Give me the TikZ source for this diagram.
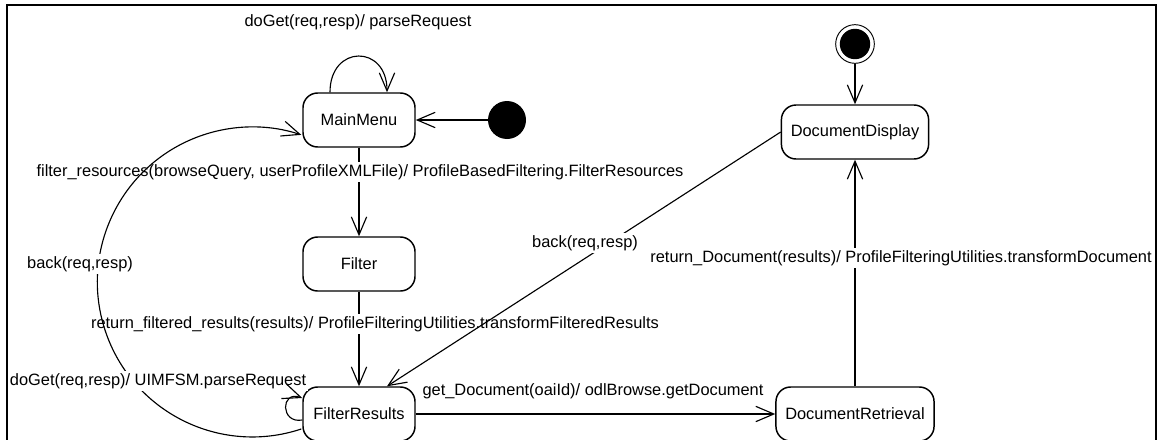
\documentclass[tikz,border=0pt]{standalone}
\usepackage{fontspec}
\setmainfont{Liberation Sans}
\usetikzlibrary{arrows.meta,calc}

\begin{document}
\begin{tikzpicture}[x=0.75pt,y=0.75pt,
  font=\fontsize{12.3pt}{14pt}\selectfont,
  state/.style={draw, line width=1.1pt, rounded corners=11pt,
    minimum width=84pt, minimum height=40.5pt, inner xsep=7pt},
  startstate/.style={circle, fill=black, minimum size=28.5pt, inner sep=0pt},
  endstate/.style={circle, draw, line width=0.7pt, minimum size=29pt, inner sep=0pt,
    path picture={\fill (path picture bounding box.center) circle (11.4pt);}},
  trans/.style={line width=0.85pt,
    -{Straight Barb[length=13.5pt,width=11.5pt,line width=0.85pt]}},
  lbl/.style={fill=white, inner sep=1.5pt},
  freelbl/.style={inner sep=1.5pt}
]
\useasboundingbox (0,0) rectangle (1162,-439);
\clip (0,0) rectangle (1162,-439);

% states
\node[state] (MM) at (359,-120) {MainMenu};
\node[state] (FL) at (359,-264) {Filter};
\node[state] (FR) at (359,-414) {FilterResults};
\node[state] (DD) at (855,-132) {DocumentDisplay};
\node[state] (DR) at (855,-414) {DocumentRetrieval};
\node[startstate] (init) at (507,-120) {};
\node[endstate] (fin) at (855,-44) {};

% MainMenu self transition
\draw[trans] ($(MM.north)+(-29,0)$) .. controls +(0,48) and +(0,48) .. ($(MM.north)+(28,0)$);
\node[freelbl] (lblMM) at (358,-22) {doGet(req,resp)/ parseRequest};

% entry into MainMenu
\draw[trans] (init) -- (MM);

% MainMenu -> Filter
\draw[trans] (MM) -- (FL);
\node[lbl] (lblFilt) at (360,-172) {filter\_resources(browseQuery, userProfileXMLFile)/ ProfileBasedFiltering.FilterResources};

% Filter -> FilterResults
\draw[trans] (FL) -- (FR);
\node[lbl] (lblRes) at (375,-324) {return\_filtered\_results(results)/ ProfileFilteringUtilities.transformFilteredResults};

% DocumentRetrieval -> DocumentDisplay
\draw[trans] (DR) -- (DD);
\node[lbl] (lblDoc) at (901,-258) {return\_Document(results)/ ProfileFilteringUtilities.transformDocument};

% entry into DocumentDisplay
\draw[trans] (fin) -- (DD);

% FilterResults -> DocumentRetrieval
\draw[trans] (FR) -- (DR);
\node[freelbl] (lblGet) at (593,-391) {get\_Document(oaiId)/ odlBrowse.getDocument};

% FilterResults -> MainMenu (back)
\draw[trans] ($(FR.west)+(-1,-15)$) arc[start angle=-71.6, end angle=-288.4, radius=155];
\node[lbl] (lblBack) at (80,-264) {back(req,resp)};

% DocumentDisplay -> FilterResults (back)
\draw[trans] (DD.west) -- ($(FR.north)+(28,0)$);
\node[lbl] (lblBack2) at (585,-243) {back(req,resp)};

% FilterResults self transition
\node[lbl] (lblFR) at (158,-381) {doGet(req,resp)/ UIMFSM.parseRequest};
\draw[trans] ($(FR.west)+(0,-6)$) .. controls +(-22,-4) and +(-22,8) .. ($(FR.west)+(0,16)$);

% outer frame, drawn last so no label fill hides it
\draw[line width=1.6pt] (7,-5) rectangle (1156,-470);
\end{tikzpicture}
\end{document}
